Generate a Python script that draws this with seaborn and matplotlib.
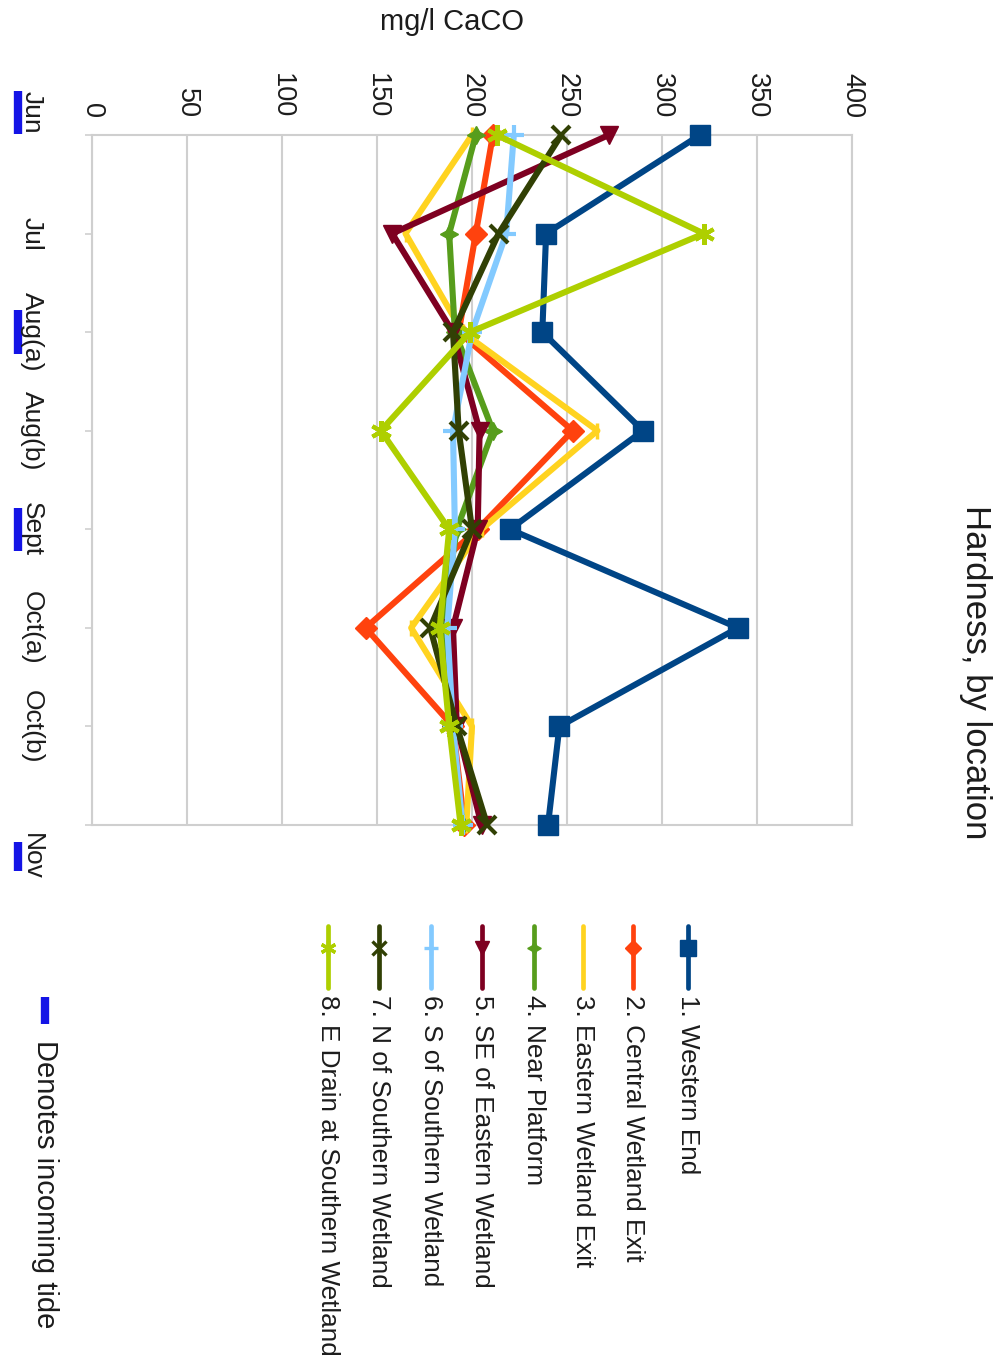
import matplotlib
matplotlib.use("Agg")
import matplotlib.pyplot as plt
import matplotlib.transforms as mtransforms
from matplotlib.lines import Line2D
import numpy as np
import pandas as pd
import seaborn as sns

# ---- data -------------------------------------------------------------
months = ["Jun", "Jul", "Aug(a)", "Aug(b)", "Sept", "Oct(a)", "Oct(b)", "Nov"]
incoming_tide = ["Jun", "Aug(a)", "Sept", "Nov"]

sites = [
    "1. Western End",
    "2. Central Wetland Exit",
    "3. Eastern Wetland Exit",
    "4. Near Platform",
    "5. SE of Eastern Wetland",
    "6. S of Southern Wetland",
    "7. N of Southern Wetland",
    "8. E Drain at Southern Wetland",
]

western_end = [320, 239, 237, 290, 220, 340, 246, 240]
central_exit = [211, 202, 193, 253, 203, 144, 190, 196]
eastern_exit = [200, 165, 195, 266, 205, 168, 200, 197]
near_platform = [202, 188, 191, 211, 192, 184, 189, 195]
se_eastern = [272, 158, 190, 204, 203, 190, 192, 205]
s_southern = [222, 218, 200, 190, 191, 187, 190, 195]
n_southern = [247, 214, 190, 193, 200, 178, 192, 208]
e_drain = [213, 322, 199, 152, 188, 183, 188, 194]

series = [western_end, central_exit, eastern_exit, near_platform,
          se_eastern, s_southern, n_southern, e_drain]

value_ticks = [0, 50, 100, 150, 200, 250, 300, 350, 400]

# ---- styling ----------------------------------------------------------
colors = ["#004586", "#ff420e", "#ffd320", "#579d1c",
          "#7e0021", "#83caff", "#314004", "#aecf00"]
markers = ["s", "D", "|", (4, 1, 0), "v", "+", "x", (6, 2, 0)]
msizes = [15, 11, 12, 13, 13, 14, 13, 15]
medges = [1, 1, 2.5, 1, 1, 3, 3, 3]
tide_blue = "#1414e6"
grid_grey = "#cfcfcf"
text_col = "#1c1c1c"

sns.set_theme(style="white")
plt.rcParams["font.family"] = ["Liberation Sans", "DejaVu Sans"]

W, H = 1005, 1362
fig = plt.figure(figsize=(W / 100, H / 100), dpi=100)
fig.patch.set_facecolor("white")

# plot area (pixel box: x 92..852, y 135..825)
ax = fig.add_axes([92 / W, 1 - 825 / H, 760 / W, 690 / H])
ax.set_facecolor("white")

pos = np.arange(len(months))
for name, vals, c, m, ms, mew in zip(sites, series, colors, markers, msizes, medges):
    df = pd.DataFrame({"value": vals, "pos": pos})
    sns.lineplot(data=df, x="value", y="pos", orient="y", sort=False,
                 color=c, lw=4.4, marker=m, markersize=ms,
                 markerfacecolor=c, markeredgecolor=c, markeredgewidth=mew,
                 ax=ax, clip_on=False, zorder=3)

ax.set_xlim(0, 400)
ax.set_ylim(len(months) - 1, 0)
ax.set_xticks(value_ticks)
ax.set_xticklabels([str(v) for v in value_ticks])
ax.set_yticks(pos)
ax.set_yticklabels([])
ax.set_xlabel("")
ax.set_ylabel("")

for v in value_ticks:
    ax.axvline(v, color=grid_grey, lw=1.5, zorder=1)

for side in ["top", "bottom", "left", "right"]:
    ax.spines[side].set_color(grid_grey)
    ax.spines[side].set_linewidth(1.5)

ax.tick_params(axis="x", top=True, labeltop=True, bottom=False, labelbottom=False,
               labelrotation=-90, pad=12, length=0, labelsize=19.5, labelcolor=text_col)
ax.tick_params(axis="y", left=True, length=5, width=1.2, color=grid_grey)

# month labels beside the category axis (end labels nudged inside the figure)
label_pos = pos.astype(float).copy()
label_pos[0] -= 0.23
label_pos[-1] += 0.32
blend = mtransforms.blended_transform_factory(ax.transAxes, ax.transData)
for lab, yp in zip(months, label_pos):
    ax.text(-0.079, yp, lab, transform=blend, rotation=-90, rotation_mode="anchor",
            ha="center", va="center", fontsize=19, color=text_col, clip_on=False)

# incoming tide markers next to the month labels
for lab, yp in zip(months, label_pos):
    if lab in incoming_tide:
        half = 0.15 if lab == months[-1] else 0.22
        ax.plot([-0.0974, -0.0974], [yp - half, yp + half], transform=blend,
                color=tide_blue, lw=6, solid_capstyle="butt", clip_on=False)

# ---- titles -----------------------------------------------------------
fig.text(975 / W, 1 - 672 / H, "Hardness, by location", rotation=-90,
         ha="center", va="center", fontsize=25, color=text_col)
fig.text(452 / W, 1 - 22 / H, "mg/l CaCO", ha="center", va="center",
         fontsize=21, color=text_col)

# ---- legend (columns read top to bottom) -----------------------------
lg = fig.add_axes([0, 0, 1, 1], facecolor="none")
lg.set_xlim(0, W)
lg.set_ylim(H, 0)
lg.axis("off")

leg_x = [688, 633, 583, 534, 482, 431, 379, 328]
for name, c, m, ms, mew, x in zip(sites, colors, markers, msizes, medges, leg_x):
    lg.add_line(Line2D([x, x], [926, 988], color=c, lw=3.4))
    if m != "|":
        lg.add_line(Line2D([x], [948], color=c, marker=m, markersize=ms * 0.75,
                           markerfacecolor=c, markeredgecolor=c,
                           markeredgewidth=max(mew * 0.8, 1), linestyle="none"))
    lg.text(x, 995, name, rotation=-90, rotation_mode="anchor", ha="left",
            va="center", fontsize=18.8, color=text_col)

lg.add_line(Line2D([45, 45], [997, 1024], color=tide_blue, lw=6,
                   solid_capstyle="butt"))
lg.text(45, 1040, "Denotes incoming tide", rotation=-90, rotation_mode="anchor",
        ha="left", va="center", fontsize=21, color=text_col)

fig.savefig("out.png", dpi=100)
